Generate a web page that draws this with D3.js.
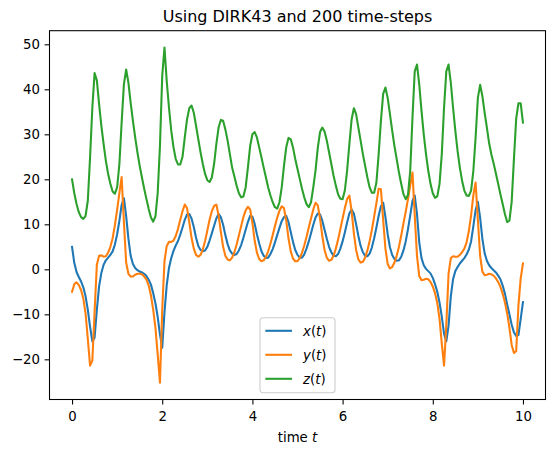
<!DOCTYPE html>
<html>
<head>
<meta charset="utf-8">
<script src="https://cdn.jsdelivr.net/npm/d3@7"></script>
<style>
	body { margin: 0; background: #fff; }
	svg { display: block; font-family: 'DejaVu Sans', sans-serif; }
</style>
</head>
<body>
<div id="chart"></div>
<script>
// time grid (200 steps)
var time_steps = [
	0, 0.05, 0.1, 0.15, 0.2, 0.25, 0.3, 0.35, 0.4, 0.45,
	0.5, 0.55, 0.6, 0.65, 0.7, 0.75, 0.8, 0.85, 0.9, 0.95,
	1, 1.05, 1.1, 1.15, 1.2, 1.25, 1.3, 1.35, 1.4, 1.45,
	1.5, 1.55, 1.6, 1.65, 1.7, 1.75, 1.8, 1.85, 1.9, 1.95,
	2, 2.05, 2.1, 2.15, 2.2, 2.25, 2.3, 2.35, 2.4, 2.45,
	2.5, 2.55, 2.6, 2.65, 2.7, 2.75, 2.8, 2.85, 2.9, 2.95,
	3, 3.05, 3.1, 3.15, 3.2, 3.25, 3.3, 3.35, 3.4, 3.45,
	3.5, 3.55, 3.6, 3.65, 3.7, 3.75, 3.8, 3.85, 3.9, 3.95,
	4, 4.05, 4.1, 4.15, 4.2, 4.25, 4.3, 4.35, 4.4, 4.45,
	4.5, 4.55, 4.6, 4.65, 4.7, 4.75, 4.8, 4.85, 4.9, 4.95,
	5, 5.05, 5.1, 5.15, 5.2, 5.25, 5.3, 5.35, 5.4, 5.45,
	5.5, 5.55, 5.6, 5.65, 5.7, 5.75, 5.8, 5.85, 5.9, 5.95,
	6, 6.05, 6.1, 6.15, 6.2, 6.25, 6.3, 6.35, 6.4, 6.45,
	6.5, 6.55, 6.6, 6.65, 6.7, 6.75, 6.8, 6.85, 6.9, 6.95,
	7, 7.05, 7.1, 7.15, 7.2, 7.25, 7.3, 7.35, 7.4, 7.45,
	7.5, 7.55, 7.6, 7.65, 7.7, 7.75, 7.8, 7.85, 7.9, 7.95,
	8, 8.05, 8.1, 8.15, 8.2, 8.25, 8.3, 8.35, 8.4, 8.45,
	8.5, 8.55, 8.6, 8.65, 8.7, 8.75, 8.8, 8.85, 8.9, 8.95,
	9, 9.05, 9.1, 9.15, 9.2, 9.25, 9.3, 9.35, 9.4, 9.45,
	9.5, 9.55, 9.6, 9.65, 9.7, 9.75, 9.8, 9.85, 9.9, 9.95,
	10
];

var x_values = [
	5.0, 1.4, -0.6, -1.7, -2.7, -4.0, -6.0, -9.0, -12.8, -16.0,
	-15.2, -9.0, -3.8, -0.8, 1.0, 2.0, 2.6, 3.2, 4.0, 5.5,
	7.8, 10.8, 14.3, 15.8, 11.8, 6.8, 3.0, 1.2, 0.3, -0.2,
	-0.5, -0.7, -1.0, -1.5, -2.3, -3.4, -5.3, -7.6, -10.6, -14.5,
	-17.4, -9.5, -3.5, 0.3, 2.5, 4.1, 5.3, 6.3, 7.7, 9.3,
	11.0, 12.2, 12.3, 11.3, 9.4, 7.0, 5.2, 4.3, 4.0, 4.2,
	5.0, 6.4, 8.0, 9.7, 11.3, 12.3, 11.6, 9.9, 7.6, 5.6,
	4.2, 3.5, 3.2, 3.4, 4.2, 5.4, 7.0, 8.8, 10.5, 11.9,
	11.7, 10.1, 7.8, 5.8, 4.0, 3.0, 2.5, 2.6, 3.4, 4.5,
	6.0, 7.6, 9.2, 10.7, 11.6, 11.9, 10.5, 8.3, 6.1, 4.3,
	3.2, 2.6, 2.6, 3.3, 4.6, 6.2, 8.0, 9.9, 11.5, 12.4,
	12.2, 10.8, 8.8, 6.8, 5.0, 3.8, 3.0, 2.9, 3.4, 4.6,
	6.2, 8.2, 10.4, 12.4, 13.3, 12.4, 10.0, 7.4, 5.2, 3.8,
	3.0, 2.9, 3.5, 4.9, 6.9, 9.3, 11.9, 14.0, 14.8, 11.6,
	7.8, 4.9, 3.2, 2.3, 1.9, 2.0, 2.8, 4.2, 6.2, 8.9,
	12.0, 15.2, 16.4, 12.3, 6.0, 2.5, 0.9, 0.1, -0.4, -0.9,
	-1.9, -3.3, -5.0, -7.4, -10.5, -14.3, -16.0, -12.5, -6.0, -2.2,
	-0.4, 0.5, 1.3, 1.9, 2.5, 3.3, 4.4, 6.2, 9.6, 13.2,
	15.0, 11.5, 6.8, 3.6, 1.9, 0.9, 0.3, -0.2, -0.7, -1.4,
	-2.2, -3.6, -5.4, -7.8, -10.0, -12.3, -14.0, -14.8, -14.6, -11.0,
	-7.3
];

var y_values = [
	-5.0, -3.3, -2.9, -3.5, -4.6, -6.5, -9.8, -15.5, -21.4, -20.3,
	-9.5, 1.0, 3.0, 3.1, 2.8, 2.9, 3.7, 5.0, 6.9, 9.8,
	13.2, 17.0, 20.5, 10.5, 1.5, -1.0, -1.6, -1.6, -1.2, -1.0,
	-1.0, -1.1, -1.6, -2.3, -3.6, -5.8, -9.0, -13.0, -19.0, -25.2,
	-9.0, 1.8, 5.2, 6.1, 6.1, 6.4, 7.4, 9.0, 11.0, 12.9,
	14.4, 13.6, 10.5, 7.0, 4.6, 3.2, 2.8, 3.2, 4.4, 6.3,
	8.6, 11.0, 12.9, 14.1, 14.4, 12.0, 8.3, 5.0, 3.0, 2.2,
	2.0, 2.6, 3.8, 5.5, 7.5, 9.6, 11.6, 13.1, 13.9, 13.3,
	10.3, 6.4, 3.7, 2.3, 1.8, 2.0, 2.8, 4.0, 5.7, 7.6,
	9.6, 11.5, 13.0, 14.0, 13.6, 10.8, 6.9, 4.0, 2.4, 1.8,
	1.8, 2.5, 3.7, 5.3, 7.2, 9.3, 11.3, 13.3, 14.8, 14.2,
	11.3, 7.4, 4.3, 2.6, 1.9, 2.1, 3.0, 4.6, 6.6, 8.9,
	11.3, 13.6, 15.6, 16.4, 13.0, 8.0, 4.3, 2.2, 1.5, 1.7,
	2.6, 4.2, 6.3, 8.8, 11.7, 14.7, 17.9, 17.8, 11.0, 4.6,
	1.2, 0.2, 0.5, 1.5, 3.0, 5.0, 7.5, 10.2, 12.8, 15.6,
	18.6, 21.5, 12.0, 3.0, -1.5, -2.4, -2.3, -2.1, -2.2, -2.8,
	-3.8, -5.3, -7.5, -11.0, -16.5, -21.4, -12.5, -1.0, 2.5, 2.9,
	2.8, 2.8, 3.2, 3.8, 4.6, 6.0, 8.5, 12.0, 16.5, 19.3,
	11.0, 3.0, -0.5, -1.3, -1.2, -1.0, -1.1, -1.4, -2.0, -2.8,
	-3.9, -5.4, -7.3, -9.8, -13.0, -16.8, -18.6, -18.2, -8.0, -2.0,
	1.3
];

var z_values = [
	20.0, 16.9, 14.5, 12.7, 11.6, 11.2, 11.9, 15.3, 24.9, 35.9,
	43.6, 42.0, 36.7, 31.9, 27.8, 24.1, 21.2, 19.0, 17.3, 16.8,
	18.2, 23.4, 32.6, 41.1, 44.4, 41.5, 37.0, 33.0, 29.3, 26.0,
	23.0, 20.4, 17.9, 15.6, 13.4, 11.5, 10.6, 11.8, 17.0, 27.5,
	43.0, 49.3, 41.8, 35.9, 30.8, 27.1, 24.5, 23.3, 23.3, 25.0,
	29.3, 33.3, 35.8, 36.4, 34.8, 31.9, 28.9, 26.0, 23.4, 21.2,
	19.8, 19.4, 20.4, 23.4, 27.8, 31.5, 33.2, 33.0, 31.1, 28.6,
	25.6, 22.6, 20.6, 18.6, 16.9, 16.0, 16.2, 18.2, 22.6, 27.4,
	30.0, 30.5, 29.3, 27.1, 24.9, 22.6, 20.4, 18.2, 16.4, 14.9,
	13.8, 13.5, 14.9, 18.2, 23.0, 27.1, 29.2, 28.9, 27.1, 24.5,
	22.3, 20.1, 17.9, 16.0, 14.5, 13.8, 14.9, 18.2, 22.0, 27.0,
	30.5, 31.5, 30.6, 28.6, 26.0, 23.4, 20.8, 18.6, 16.7, 15.7,
	15.6, 17.5, 21.9, 27.8, 33.3, 35.8, 34.5, 31.5, 28.6, 25.6,
	23.0, 20.4, 18.2, 17.0, 17.0, 19.3, 25.6, 33.0, 39.0, 40.4,
	38.1, 34.5, 30.8, 27.4, 24.5, 21.5, 19.0, 16.7, 15.6, 16.5,
	21.9, 33.7, 44.0, 45.5, 41.1, 35.2, 30.0, 25.6, 21.9, 19.0,
	16.9, 15.9, 16.2, 19.0, 25.6, 35.9, 44.0, 45.5, 41.5, 35.9,
	30.8, 26.3, 22.6, 19.7, 17.5, 16.4, 16.3, 17.5, 21.9, 29.3,
	38.1, 41.0, 38.5, 34.8, 31.5, 28.0, 25.5, 23.5, 21.3, 19.0,
	16.7, 14.5, 12.3, 10.5, 10.8, 15.0, 24.5, 33.5, 36.9, 36.9,
	32.6
];

var series_names = ['x', 'y', 'z'];
var series_colors = ['#1f77b4', '#ff7f0e', '#2ca02c'];
var t_ticks = [0, 2, 4, 6, 8, 10];
var value_ticks = [-20, -10, 0, 10, 20, 30, 40, 50];

var chart_width  = 555;
var chart_height = 454;
var plot_left = 49.5, plot_right = 545.5, plot_top = 30.7, plot_bottom = 399.5;

var all_series = [x_values, y_values, z_values];

// create SVG Element
var svg = d3.select('#chart')
	.append('svg')
	.attr('width', chart_width)
	.attr('height', chart_height);

svg.append('rect')
	.attr('width', chart_width)
	.attr('height', chart_height)
	.attr('fill', '#fff');

// scales, 5% margins like matplotlib
var t_min = d3.min(time_steps), t_max = d3.max(time_steps);
var t_pad = (t_max - t_min) * 0.05;
var x_scale = d3.scaleLinear()
	.domain([t_min - t_pad, t_max + t_pad])
	.range([plot_left, plot_right]);

var v_min = d3.min(all_series, function(s){ return d3.min(s); });
var v_max = d3.max(all_series, function(s){ return d3.max(s); });
var v_pad = (v_max - v_min) * 0.05;
var y_scale = d3.scaleLinear()
	.domain([v_min - v_pad, v_max + v_pad])
	.range([plot_bottom, plot_top]);

// lines
var line = d3.line()
	.x(function(d, i){ return x_scale(time_steps[i]); })
	.y(function(d){ return y_scale(d); });

svg.append('g')
	.selectAll('path')
	.data(all_series)
	.enter()
	.append('path')
	.attr('d', line)
	.attr('fill', 'none')
	.attr('stroke', function(d, i){ return series_colors[i]; })
	.attr('stroke-width', 2.08)
	.attr('stroke-linejoin', 'round')
	.attr('stroke-linecap', 'square');

// axes
var x_axis = d3.axisBottom(x_scale)
	.tickValues(t_ticks)
	.tickSize(4.9)
	.tickPadding(4.6)
	.tickFormat(d3.format('d'));

var y_axis = d3.axisLeft(y_scale)
	.tickValues(value_ticks)
	.tickSize(4.9)
	.tickPadding(4.6)
	.tickFormat(d3.format('d'));

var gx = svg.append('g')
	.attr('transform', 'translate(0,' + plot_bottom + ')')
	.call(x_axis);

var gy = svg.append('g')
	.attr('transform', 'translate(' + plot_left + ',0)')
	.call(y_axis);

[gx, gy].forEach(function(g){
	g.select('.domain').remove();
	g.selectAll('line').attr('stroke', '#000').attr('stroke-width', 1.07);
	g.selectAll('text')
		.attr('fill', '#000')
		.style('font-size', '13.3px')
		.style('font-family', "'DejaVu Sans', sans-serif");
});
gx.selectAll('text').attr('dy', '0.93em');

// frame
svg.append('rect')
	.attr('x', plot_left)
	.attr('y', plot_top)
	.attr('width', plot_right - plot_left)
	.attr('height', plot_bottom - plot_top)
	.attr('fill', 'none')
	.attr('stroke', '#000')
	.attr('stroke-width', 1.07);

// title and label
svg.append('text')
	.attr('x', (plot_left + plot_right) / 2)
	.attr('y', 22)
	.attr('text-anchor', 'middle')
	.style('font-size', '16px')
	.text('Using DIRK43 and 200 time-steps');

var xlabel = svg.append('text')
	.attr('x', (plot_left + plot_right) / 2)
	.attr('y', 442)
	.attr('text-anchor', 'middle')
	.style('font-size', '13.3px');
xlabel.append('tspan').text('time ');
xlabel.append('tspan').attr('font-style', 'italic').text('t');

// legend (lower center)
var leg_w = 75, leg_h = 75;
var leg_x = (plot_left + plot_right) / 2 - leg_w / 2;
var leg_y = plot_bottom - 6.7 - leg_h;

var legend = svg.append('g')
	.attr('transform', 'translate(' + leg_x + ',' + leg_y + ')');

legend.append('rect')
	.attr('width', leg_w)
	.attr('height', leg_h)
	.attr('rx', 3)
	.attr('fill', 'rgba(255,255,255,0.8)')
	.attr('stroke', '#cccccc')
	.attr('stroke-width', 1.07);

var rows = legend.selectAll('g.row')
	.data(series_names)
	.enter()
	.append('g')
	.attr('class', 'row')
	.attr('transform', function(d, i){ return 'translate(0,' + (13 + i * 24) + ')'; });

rows.append('line')
	.attr('x1', 5.3)
	.attr('x2', 32)
	.attr('stroke', function(d, i){ return series_colors[i]; })
	.attr('stroke-width', 2.08);

var labels = rows.append('text')
	.attr('x', 43)
	.attr('y', 5)
	.style('font-size', '13.3px');
labels.append('tspan').attr('font-style', 'italic').text(function(d){ return d; });
labels.append('tspan').text('(');
labels.append('tspan').attr('font-style', 'italic').text('t');
labels.append('tspan').text(')');
</script>
</body>
</html>
